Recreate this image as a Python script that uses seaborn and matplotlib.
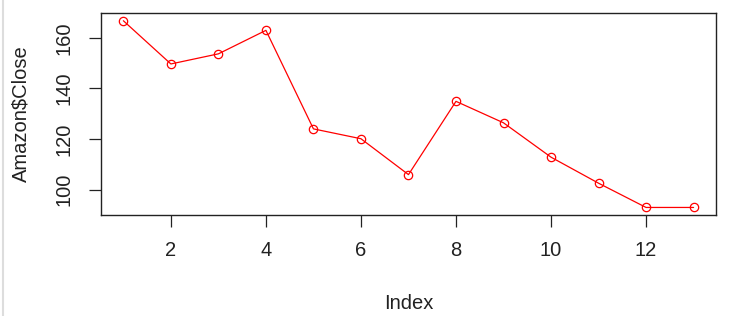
import matplotlib
matplotlib.use("Agg")
import matplotlib.pyplot as plt
import seaborn as sns
import pandas as pd

index = list(range(1, 14))
close = [166.8, 149.7, 153.7, 163.0, 124.0, 120.1, 105.9, 134.9, 126.4, 112.8, 102.5, 92.9, 92.9]
xticks = [2, 4, 6, 8, 10, 12]
yticks = [100, 120, 140, 160]

sns.set_style("ticks")
plt.rcParams['font.family'] = ['Liberation Sans', 'DejaVu Sans']

df = pd.DataFrame({"Index": index, "Close": close})

fig = plt.figure(figsize=(7.34, 3.16), dpi=100)
ax = fig.add_axes([0.137, 0.320, 0.839, 0.638])

sns.lineplot(data=df, x="Index", y="Close", ax=ax, color="#ff0000",
             linewidth=0.9, marker="o", markersize=6,
             markerfacecolor="none", markeredgecolor="#ff0000",
             markeredgewidth=0.9)

ax.set_xlim(0.52, 13.48)
ax.set_ylim(89.96, 169.76)
ax.set_xticks(xticks)
ax.set_yticks(yticks)
ax.set_yticklabels([str(v) for v in yticks], rotation=90, va="center")

for s in ax.spines.values():
    s.set_visible(True)
    s.set_color("#222222")
    s.set_linewidth(1.0)

ax.tick_params(axis="both", direction="out", length=8.5, width=0.9,
               color="#222222", labelsize=14.5, labelcolor="#222222")
ax.tick_params(axis="x", pad=10.5)
ax.tick_params(axis="y", pad=11)

ax.set_xlabel("Index", fontsize=14.5, color="#222222", labelpad=24)
ax.set_ylabel("Amazon$Close", fontsize=14.5, color="#222222", labelpad=17)

# light grey edge of the screenshot frame
fig.add_artist(plt.Line2D([0.004, 0.004], [0, 1], transform=fig.transFigure,
                          color="#dddddd", linewidth=1.5))

fig.savefig("out.png", dpi=100)
